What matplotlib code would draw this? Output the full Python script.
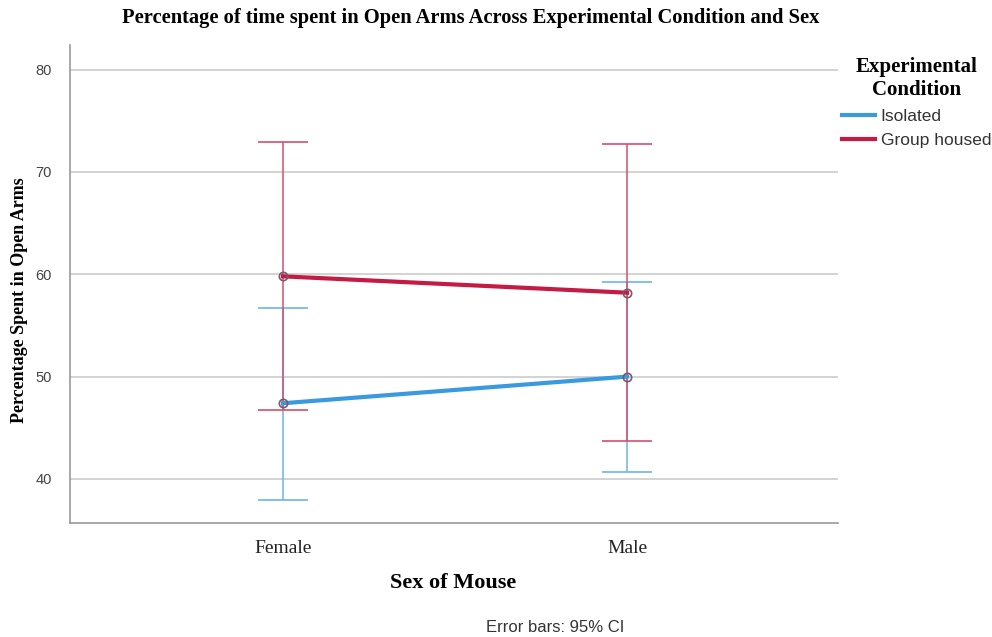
import matplotlib
matplotlib.use("Agg")
import matplotlib.pyplot as plt
import numpy as np

sexes = ["Female", "Male"]
conditions = ["Isolated", "Group housed"]
means = {"Isolated": [47.4, 50.0], "Group housed": [59.8, 58.2]}
ci_low = {"Isolated": [37.9, 40.7], "Group housed": [46.7, 43.7]}
ci_high = {"Isolated": [56.7, 59.2], "Group housed": [72.9, 72.7]}
colors = {"Isolated": "#3a9ae0", "Group housed": "#c41b45"}
err_colors = {"Isolated": "#6fb3e6", "Group housed": "#d2506f"}
yticks = [40, 50, 60, 70, 80]

fig = plt.figure(figsize=(9.92, 6.37), dpi=100)
ax = fig.add_axes([70/992, 1-523/637, (838-70)/992, (523-45)/637])

x = np.arange(len(sexes))
for cond in conditions:
    m = np.array(means[cond])
    lo = m - np.array(ci_low[cond])
    hi = np.array(ci_high[cond]) - m
    ax.errorbar(x, m, yerr=[lo, hi], fmt="none", ecolor=err_colors[cond],
                elinewidth=1.1, capsize=18, capthick=1.2, zorder=3)
for cond in conditions:
    ax.plot(x, means[cond], color=colors[cond], lw=3, zorder=4, label=cond)
    ax.plot(x, means[cond], "o", ms=6, mfc="none", mec="#7a5a6a", mew=1.2, zorder=5)

ax.set_xlim(-0.619, 1.613)
ax.set_ylim(35.7, 82.4)
ax.set_yticks(yticks)
ax.set_xticks(x)
ax.set_xticklabels(sexes, family="Liberation Serif", fontsize=14, color="#222222")
for lab in ax.get_yticklabels():
    lab.set_family("Liberation Sans")
    lab.set_fontsize(10.5)
    lab.set_color("#444444")
ax.tick_params(axis="y", length=0, pad=13)
ax.tick_params(axis="x", length=0, pad=12)
ax.grid(axis="y", color="#cccccc", lw=1.2)
ax.set_axisbelow(True)
for s in ["top", "right"]:
    ax.spines[s].set_visible(False)
for s in ["left", "bottom"]:
    ax.spines[s].set_color("#999999")
    ax.spines[s].set_linewidth(1.2)

fig.text(20/992, 1-300/637, "Percentage Spent in Open Arms", rotation=90,
         ha="center", va="center", family="Liberation Serif", fontsize=13, fontweight="bold")
fig.text(453/992, 1-583/637, "Sex of Mouse", ha="center", va="center",
         family="Liberation Serif", fontsize=16, fontweight="bold")
fig.text(471/992, 1-18/637, "Percentage of time spent in Open Arms Across Experimental Condition and Sex",
         ha="center", va="center", family="Liberation Serif", fontsize=14.8, fontweight="bold")
fig.text(555/992, 1-628/637, "Error bars: 95% CI", ha="center", va="center",
         family="Liberation Sans", fontsize=12, color="#333333")

leg = ax.legend(loc="upper left", bbox_to_anchor=(0.99, 1.0), frameon=False,
                title="Experimental\nCondition", handlelength=1.9, handletextpad=0.3,
                labelspacing=0.5, borderaxespad=0.3,
                prop={"family": "Liberation Sans", "size": 12.5})
leg.get_title().set_fontfamily("Liberation Serif")
leg.get_title().set_fontweight("bold")
leg.get_title().set_fontsize(15)
leg.get_title().set_multialignment("center")
for t in leg.get_texts():
    t.set_color("#333333")

fig.savefig("out.png", dpi=100)
